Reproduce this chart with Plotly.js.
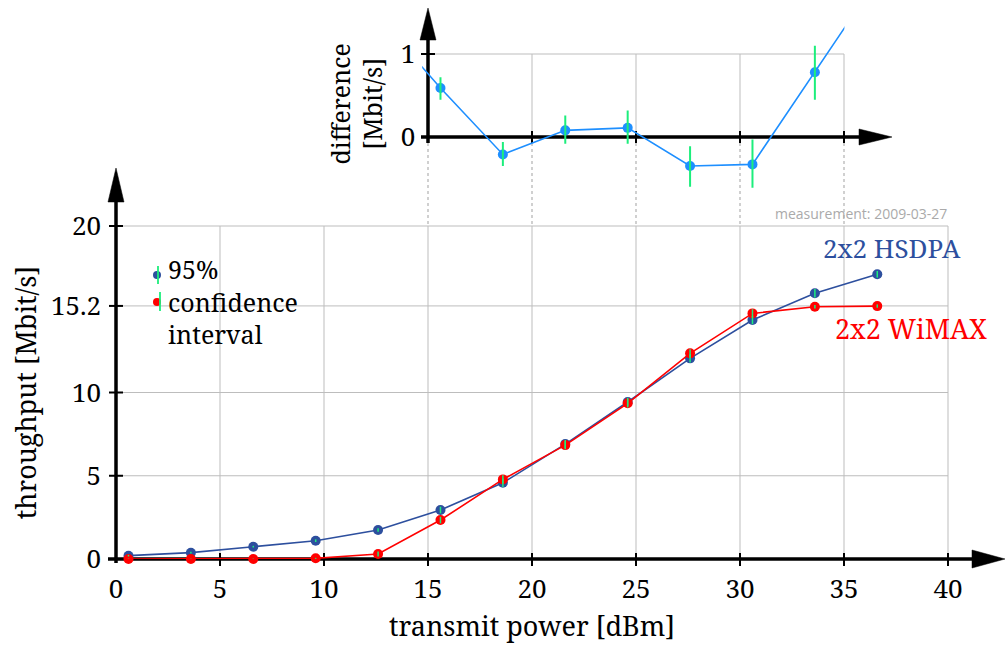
<!DOCTYPE html>
<html>
<head>
<meta charset="utf-8">
<script src="https://cdn.plot.ly/plotly-3.0.1.min.js"></script>
<style>html,body{margin:0;padding:0;background:#fff;}#chart{width:1007px;height:652px;}</style>
</head>
<body>
<div id="chart"></div>
<script>
// ---------- data ----------
const power = [0.6, 3.6, 6.6, 9.6, 12.6, 15.6, 18.6, 21.6, 24.6, 27.6, 30.6, 33.6, 36.6];
const hsdpa = [0.20, 0.38, 0.74, 1.10, 1.74, 2.94, 4.58, 6.90, 9.43, 12.05, 14.35, 15.96, 17.10];
const wimax = [0.00, 0.00, 0.00, 0.04, 0.30, 2.34, 4.78, 6.84, 9.35, 12.35, 14.75, 15.15, 15.19];
const hsdpaErr = [0.05, 0.05, 0.05, 0.08, 0.10, 0.20, 0.25, 0.25, 0.25, 0.25, 0.25, 0.25, 0.20];
const wimaxErr = [0.02, 0.02, 0.02, 0.03, 0.15, 0.20, 0.25, 0.25, 0.25, 0.25, 0.25, 0.10, 0.10];

const diffPower = [12.6, 15.6, 18.6, 21.6, 24.6, 27.6, 30.6, 33.6, 36.6];
const diff      = [1.45, 0.59, -0.21, 0.08, 0.11, -0.35, -0.33, 0.78, 1.90];
const diffErrPlus  = [0, 0.13, 0.15, 0.18, 0.21, 0.24, 0.30, 0.32, 0];
const diffErrMinus = [0, 0.14, 0.14, 0.16, 0.19, 0.25, 0.28, 0.33, 0];

const xTicks = [0, 5, 10, 15, 20, 25, 30, 35, 40];
const yTicks = [0, 5, 10, 15.2, 20];
const yTickText = ['0', '5', '10', '15.2', '20'];
const insetXTicks = [15, 20, 25, 30, 35];
const insetYTicks = [0, 1];

// ---------- geometry helpers (pixels -> paper) ----------
const W = 1007, H = 652;
const X0 = 116, X1 = 948;      // x = 0 .. 40
const Y0 = 559, Y1 = 226;      // y = 0 .. 20
const IY0 = 137, IY1 = 54;     // inset y = 0 .. 1
const pxX = v => X0 + v * (X1 - X0) / 40;
const pyM = v => Y0 - v * (Y0 - Y1) / 20;
const pyI = v => IY0 - v * (IY0 - IY1);
const fx = p => p / W;
const fy = p => (H - p) / H;

const SERIF = 'Noto Serif';
const BLUE = '#2d4f9e', RED = '#ff0000', GREEN = '#1cee7c', LBLUE = '#1e8fff';

const insetXRange = [14.72, 35.02];
const insetYRange = [-0.8, 1.6];

const traces = [
  {x: power, y: hsdpa, type: 'scatter', mode: 'lines+markers', xaxis: 'x', yaxis: 'y',
   line: {color: BLUE, width: 1.6}, marker: {color: BLUE, size: 10}, cliponaxis: false, name: '2x2 HSDPA'},
  {x: power, y: wimax, type: 'scatter', mode: 'lines+markers', xaxis: 'x', yaxis: 'y',
   line: {color: RED, width: 1.6}, marker: {color: RED, size: 10}, cliponaxis: false, name: '2x2 WiMAX'},
  {x: power, y: hsdpa, type: 'scatter', mode: 'markers', xaxis: 'x', yaxis: 'y', cliponaxis: false,
   marker: {color: 'rgba(0,0,0,0)', size: 1}, hoverinfo: 'skip',
   error_y: {type: 'data', array: hsdpaErr, visible: true, color: GREEN, thickness: 1.5, width: 0}},
  {x: power, y: wimax, type: 'scatter', mode: 'markers', xaxis: 'x', yaxis: 'y', cliponaxis: false,
   marker: {color: 'rgba(0,0,0,0)', size: 1}, hoverinfo: 'skip',
   error_y: {type: 'data', array: wimaxErr, visible: true, color: GREEN, thickness: 1.5, width: 0}},
  {x: diffPower, y: diff, type: 'scatter', mode: 'lines+markers', xaxis: 'x2', yaxis: 'y2',
   line: {color: LBLUE, width: 1.6}, marker: {color: LBLUE, size: 10}, name: 'difference'},
  {x: diffPower, y: diff, type: 'scatter', mode: 'markers', xaxis: 'x2', yaxis: 'y2',
   marker: {color: 'rgba(0,0,0,0)', size: 1}, hoverinfo: 'skip',
   error_y: {type: 'data', symmetric: false, array: diffErrPlus, arrayminus: diffErrMinus,
             visible: true, color: GREEN, thickness: 2, width: 0}}
];

// ---------- decorations ----------
const shapes = [];
const line = (x0, y0, x1, y1, color, width, dash, layer) => shapes.push({
  type: 'line', xref: 'paper', yref: 'paper', layer: layer || 'below',
  x0: fx(x0), y0: fy(y0), x1: fx(x1), y1: fy(y1),
  line: {color: color, width: width, dash: dash || 'solid'}});
const tri = (pts, color) => shapes.push({
  type: 'path', xref: 'paper', yref: 'paper', layer: 'below',
  path: 'M' + pts.map(p => fx(p[0]) + ',' + fy(p[1])).join(' L') + ' Z',
  fillcolor: color, line: {color: color, width: 0.5}});
const dot = (cx, cy, r, color) => shapes.push({
  type: 'circle', xref: 'paper', yref: 'paper', layer: 'above',
  x0: fx(cx - r), x1: fx(cx + r), y0: fy(cy + r), y1: fy(cy - r),
  fillcolor: color, line: {width: 0}});

// main grid
xTicks.filter(v => v > 0).forEach(v => line(pxX(v), Y0, pxX(v), Y1, '#bdbdbd', 1));
yTicks.filter(v => v > 0).forEach(v => line(X0, pyM(v), X1, pyM(v), '#bdbdbd', 1));
// dotted connectors between inset and main plot
insetXTicks.forEach(v => line(pxX(v), IY0 + 6, pxX(v), Y1 - 2, '#aaaaaa', 1.1, 'dot'));
// inset grid
insetXTicks.filter(v => v > 15).forEach(v => line(pxX(v), IY0, pxX(v), pyI(1), '#bdbdbd', 1));
line(pxX(15), pyI(1), pxX(35), pyI(1), '#bdbdbd', 1);

// main axes with arrows
line(X0 - 8, Y0, 976, Y0, '#000', 3.5);
tri([[972, Y0 - 9], [1005, Y0], [972, Y0 + 9]], '#000');
line(X0, Y0 + 4, X0, 200, '#000', 3.5);
tri([[X0 - 8, 202], [X0, 168], [X0 + 8, 202]], '#000');
xTicks.filter(v => v > 0).forEach(v => line(pxX(v), Y0 - 6, pxX(v), Y0 + 7, '#000', 2));
yTicks.filter(v => v > 0).forEach(v => line(X0 - 7, pyM(v), X0 + 7, pyM(v), '#000', 2));

// inset axes with arrows
line(pxX(15) - 7, IY0, 862, IY0, '#000', 3.5);
tri([[859, IY0 - 8], [892, IY0], [859, IY0 + 8]], '#000');
line(pxX(15), IY0 + 6, pxX(15), 38, '#000', 3.5);
tri([[pxX(15) - 8, 40], [pxX(15), 8], [pxX(15) + 8, 40]], '#000');
insetXTicks.filter(v => v > 15).forEach(v => line(pxX(v), IY0 - 6, pxX(v), IY0 + 6, '#000', 2));
line(pxX(15) - 7, pyI(1), pxX(15) + 7, pyI(1), '#000', 2);

// legend glyphs
dot(157, 275, 4, BLUE);
line(158, 266, 158, 284, GREEN, 1.8, 'solid', 'above');
dot(157, 302, 4, RED);
line(160, 292, 160, 311, GREEN, 1.8, 'solid', 'above');

const ann = (text, x, y, size, color, xanchor, family, align) => ({
  text: text, x: fx(x), y: fy(y), xref: 'paper', yref: 'paper', showarrow: false,
  xanchor: xanchor || 'center', yanchor: 'middle', align: align || 'center',
  font: {family: family || SERIF, size: size, color: color || '#000'}});

const annotations = [
  ann('2x2 HSDPA', 892, 248, 26, BLUE),
  ann('2x2 WiMAX', 911, 328, 27, RED),
  ann('measurement: 2009-03-27', 949, 213, 14, '#aaaaaa', 'right', 'Open Sans'),
  ann('95%<br>confidence<br>interval', 166, 301, 25, '#000', 'left', SERIF, 'left')
];

const layout = {
  width: W, height: H,
  margin: {l: 0, r: 0, t: 0, b: 0, pad: 0},
  paper_bgcolor: '#fff', plot_bgcolor: 'rgba(0,0,0,0)',
  showlegend: false,
  font: {family: SERIF, size: 26, color: '#000'},
  xaxis: {
    domain: [fx(X0), fx(X1)], range: [0, 40], anchor: 'y',
    tickvals: xTicks, ticktext: xTicks.map(String), ticks: '', ticklabelstandoff: 12,
    showgrid: false, zeroline: false, showline: false,
    tickfont: {family: SERIF, size: 26, color: '#000'},
    title: {text: 'transmit power [dBm]', font: {family: SERIF, size: 27, color: '#000'}, standoff: 12}
  },
  yaxis: {
    domain: [fy(Y0), fy(Y1)], range: [0, 20], anchor: 'x',
    tickvals: yTicks, ticktext: yTickText, ticks: '', ticklabelstandoff: 14,
    showgrid: false, zeroline: false, showline: false,
    tickfont: {family: SERIF, size: 26, color: '#000'},
    title: {text: 'throughput [Mbit/s]', font: {family: SERIF, size: 27, color: '#000'}, standoff: 6}
  },
  xaxis2: {
    domain: [fx(pxX(insetXRange[0])), fx(pxX(insetXRange[1]))], range: insetXRange, anchor: 'y2',
    showticklabels: false, ticks: '', showgrid: false, zeroline: false, showline: false
  },
  yaxis2: {
    domain: [fy(pyI(insetYRange[0])), fy(pyI(insetYRange[1]))], range: insetYRange, anchor: 'x2',
    tickvals: insetYTicks, ticktext: insetYTicks.map(String), ticks: '', ticklabelstandoff: 6,
    showgrid: false, zeroline: false, showline: false,
    tickfont: {family: SERIF, size: 26, color: '#000'},
    title: {text: 'difference<br>[Mbit/s]', font: {family: SERIF, size: 25, color: '#000'}, standoff: 10}
  },
  shapes: shapes,
  annotations: annotations
};

Plotly.newPlot('chart', traces, layout, {displayModeBar: false, staticPlot: true});
</script>
</body>
</html>
